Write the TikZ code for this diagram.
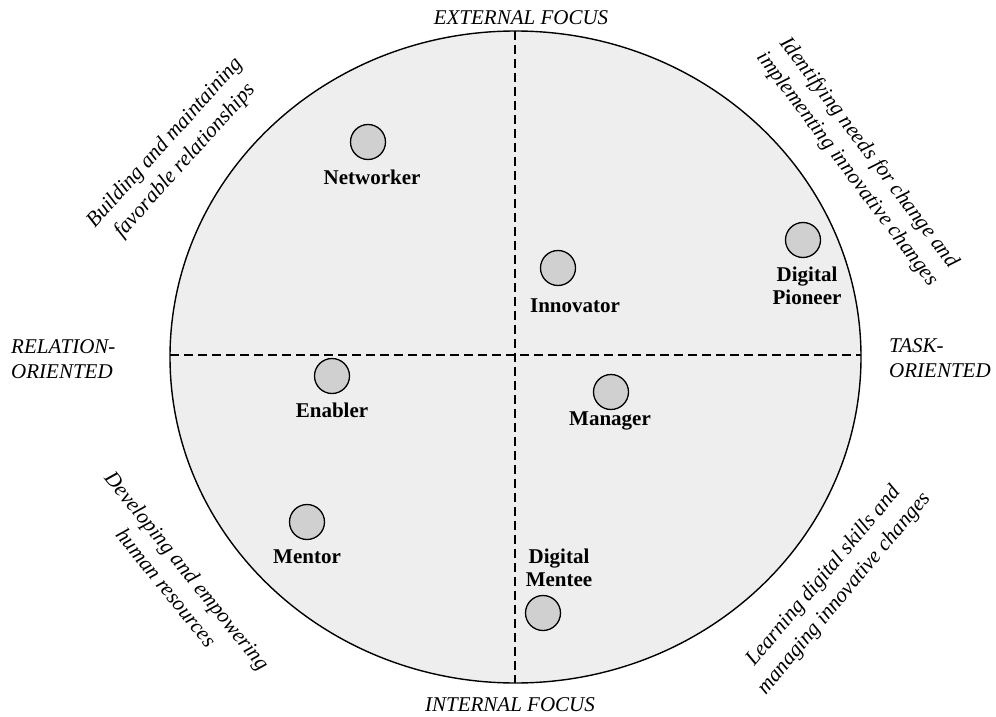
\documentclass[tikz,border=0pt]{standalone}
\usepackage{fontspec}
\setmainfont{Liberation Serif}
\begin{document}
\begin{tikzpicture}[x=1pt,y=-1pt,
  dot/.style={circle,draw=black,line width=1.3pt,fill=dotgray,minimum size=35pt,inner sep=0pt},
  lab/.style={font=\fontsize{21}{23}\selectfont\bfseries,align=center,inner sep=0pt},
  axis/.style={font=\fontsize{21}{25}\selectfont\itshape,inner sep=0pt},
  diag/.style={font=\fontsize{21.5}{27}\selectfont\itshape,align=center,inner sep=0pt},
  divider/.style={line width=1.3pt,dash pattern=on 9pt off 5pt}]
\definecolor{dotgray}{HTML}{D0D0D0}
\definecolor{bggray}{HTML}{EEEEEE}
\useasboundingbox (0,0) rectangle (996,717);
\draw[line width=1.4pt,fill=bggray] (515.5,357) ellipse [x radius=345.5,y radius=326];
\coordinate (vt) at (515,31);
\coordinate (vb) at (515,683);
\coordinate (hl) at (170,355);
\coordinate (hr) at (861,355);
\draw[divider] (vt) -- (vb);
\draw[divider] (hl) -- (hr);
% axis labels
\node[axis] (ext) at (521,18) {EXTERNAL FOCUS};
\node[axis] (int) at (510,705) {INTERNAL FOCUS};
\node[axis,align=left,anchor=west] (rel) at (11,359) {RELATION-\\ORIENTED};
\node[axis,align=left,anchor=west] (task) at (889,358) {TASK-\\ORIENTED};
% diagonal labels
\node[diag,rotate=48] (d1) at (175,152) {Building and maintaining\\favorable relationships};
\node[diag,rotate=-53] (d2) at (858,161) {Identifying needs for change and\\implementing innovative changes};
\node[diag,rotate=-51] (d3) at (177,579) {Developing and empowering\\human resources};
\node[diag,rotate=50] (d4) at (834,585) {Learning digital skills and\\managing innovative changes};
% role dots and labels
\node[dot] (networker) at (368,142) {};
\node[lab] (networkerl) at (372,177) {Networker};
\node[dot] (innovator) at (558,268) {};
\node[lab] (innovatorl) at (575,306) {Innovator};
\node[dot] (pioneer) at (803,240) {};
\node[lab] (pioneerl) at (807,286) {Digital\\Pioneer};
\node[dot] (enabler) at (332,376) {};
\node[lab] (enablerl) at (332,410) {Enabler};
\node[dot] (manager) at (611,392) {};
\node[lab] (managerl) at (610,421) {Manager};
\node[dot] (mentor) at (307,522) {};
\node[lab] (mentorl) at (307,557) {Mentor};
\node[dot] (mentee) at (543,613) {};
\node[lab] (menteel) at (559,568) {Digital\\Mentee};
\end{tikzpicture}
\end{document}
